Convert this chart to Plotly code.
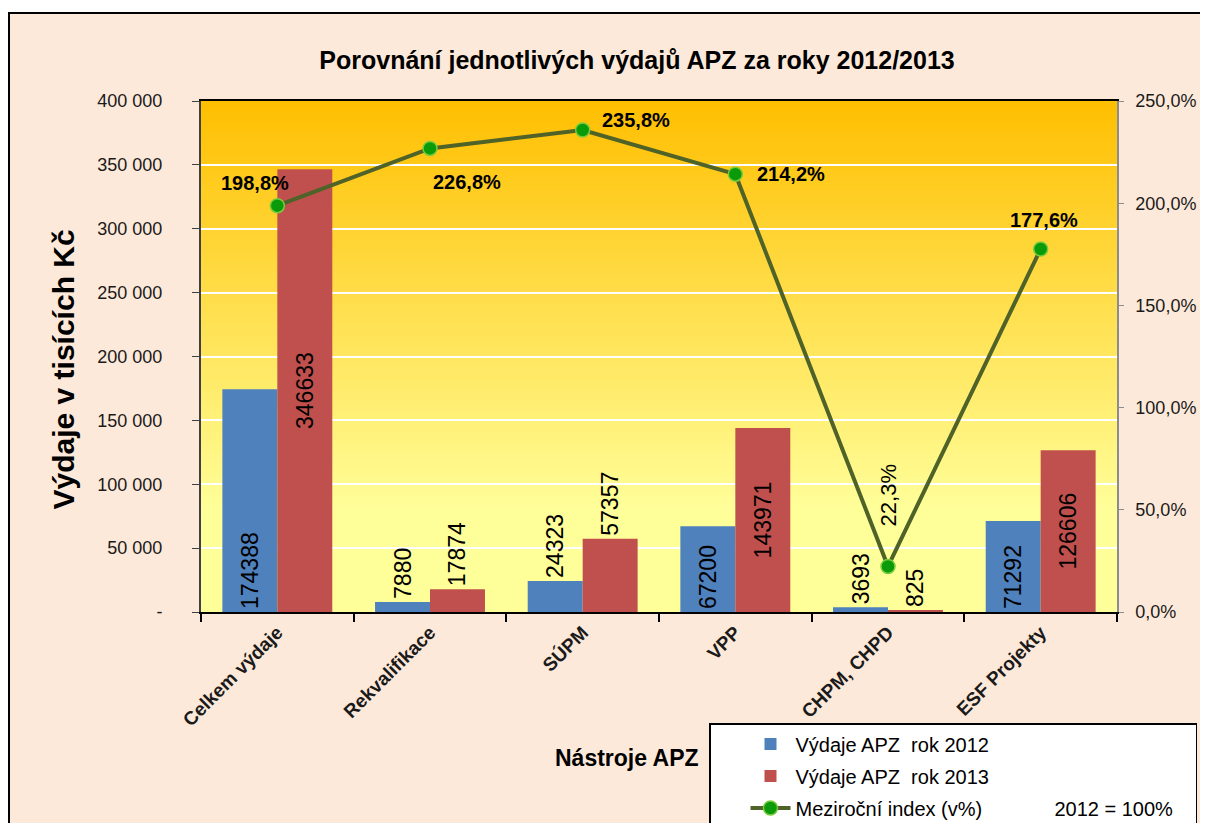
import plotly.graph_objects as go

categories = ["Celkem výdaje", "Rekvalifikace", "SÚPM", "VPP", "CHPM, CHPD", "ESF Projekty"]
spend_2012 = [174388, 7880, 24323, 67200, 3693, 71292]
spend_2013 = [346633, 17874, 57357, 143971, 825, 126606]
index_pct = [198.8, 226.8, 235.8, 214.2, 22.3, 177.6]

y_ticks = [0, 50000, 100000, 150000, 200000, 250000, 300000, 350000, 400000]
y_ticktext = ["-", "50 000", "100 000", "150 000", "200 000", "250 000", "300 000", "350 000", "400 000"]
y2_ticks = [0, 50, 100, 150, 200, 250]
y2_ticktext = ["0,0%", "50,0%", "100,0%", "150,0%", "200,0%", "250,0%"]

# label placement styling (pixel offsets, textposition) — not data
blue_pos = ["inside", "outside", "outside", "inside", "outside", "inside"]
red_pos = ["inside", "outside", "outside", "inside", "outside", "inside"]
pct_offsets = [(-22, 23, 0), (37, -34, 0), (53, 10, 0), (56, 0, 0), (0, 71, -90), (3, 29, 0)]

NB = "\u00a0"
fig = go.Figure()

fig.add_trace(go.Bar(
    x=categories, y=spend_2012, name="Výdaje APZ" + NB * 2 + "rok 2012",
    marker=dict(color="#4F81BD", line=dict(width=0)),
    text=[str(v) for v in spend_2012], textposition=blue_pos, textangle=-90,
    insidetextanchor="start", constraintext="none", cliponaxis=False,
    textfont=dict(size=23, color="black", family="Liberation Sans, Arial"),
    insidetextfont=dict(size=23, color="black"), outsidetextfont=dict(size=23, color="black"),
    legendgroup="a", yaxis="y",
))
fig.add_trace(go.Bar(
    x=categories, y=spend_2013, name="Výdaje APZ" + NB * 2 + "rok 2013",
    marker=dict(color="#C0504D", line=dict(width=0)),
    text=[str(v) for v in spend_2013], textposition=red_pos, textangle=-90,
    insidetextanchor="middle", constraintext="none", cliponaxis=False,
    textfont=dict(size=23, color="black", family="Liberation Sans, Arial"),
    insidetextfont=dict(size=23, color="black"), outsidetextfont=dict(size=23, color="black"),
    legendgroup="b", yaxis="y",
))
fig.add_trace(go.Scatter(
    x=categories, y=index_pct, name="Meziroční index (v%)" + NB * 13 + "2012 = 100%" + NB * 3,
    mode="lines+markers", yaxis="y2",
    line=dict(color="#4F6228", width=4),
    marker=dict(size=14, color="#0A9A0A", line=dict(color="#7ACC3C", width=1.5)),
    legendgroup="c", cliponaxis=False,
))

# Gradient plot background & outer frame
shapes = [dict(type="rect", xref="paper", yref="paper", x0=-0.2096, x1=1.3, y0=-0.6, y1=1.1722,
               fillcolor="#FDE9D9", line=dict(color="black", width=2), layer="below")]
N = 80
c0 = (255, 190, 0)
c1 = (255, 255, 153)
for i in range(N):
    t = (i + 0.5) / N
    tp = min(1.0, t / 0.8)
    col = tuple(round(c0[k] + (c1[k] - c0[k]) * tp) for k in range(3))
    shapes.append(dict(type="rect", xref="paper", yref="paper", x0=0, x1=1,
                       y0=1 - (i + 1) / N, y1=1 - i / N + 0.002,
                       fillcolor="rgb(%d,%d,%d)" % col, line=dict(width=0), layer="below"))

annotations = []
for i, (cat, v) in enumerate(zip(categories, index_pct)):
    dx, dy, ang = pct_offsets[i]
    txt = ("%.1f" % v).replace(".", ",") + "%"
    annotations.append(dict(
        x=cat, y=v, xref="x", yref="y2", text=txt, showarrow=False,
        xshift=dx, yshift=dy, textangle=ang,
        font=dict(size=20 if ang == 0 else 22, color="black",
                  family="Liberation Sans, Arial", weight="bold" if ang == 0 else "normal"),
    ))
annotations.append(dict(x=0.465, y=-0.315, xref="paper", yref="paper", text="<b>Nástroje APZ</b>",
                        showarrow=False, font=dict(size=23, color="black")))
annotations.append(dict(x=-0.1703, y=0.4736, xref="paper", yref="paper", text="<b>Výdaje v tisících Kč</b>",
                        showarrow=False, textangle=-90, font=dict(size=30, color="black")))

fig.update_layout(
    width=1200, height=815,
    margin=dict(l=193, r=91, t=93, b=211, autoexpand=False),
    paper_bgcolor="white", plot_bgcolor="rgba(0,0,0,0)",
    font=dict(family="Liberation Sans, Arial, sans-serif", color="#1a1a1a"),
    title=dict(text="<b>Porovnání jednotlivých výdajů APZ za roky 2012/2013</b>",
               x=629 / 1200, xref="container", xanchor="center",
               y=1 - 52 / 815, yref="container", yanchor="middle",
               font=dict(size=25, color="black")),
    barmode="group", bargap=0.28, bargroupgap=0,
    showlegend=True,
    legend=dict(x=(701 - 193) / 916, y=(604 - 715) / 511, xanchor="left", yanchor="top",
                bgcolor="white", bordercolor="black", borderwidth=1.5,
                font=dict(size=20, color="black"), traceorder="grouped", tracegroupgap=3,
                indentation=35, itemwidth=40),
    xaxis=dict(type="category", showgrid=False, showline=True, linecolor="black", linewidth=2,
               mirror=True, ticks="outside", ticklen=8, tickcolor="black", tickwidth=1.5,
               tickson="boundaries", tickangle=-45,
               tickfont=dict(size=19, color="#1a1a1a", weight="bold")),
    yaxis=dict(range=[0, 400000], tickvals=y_ticks, ticktext=y_ticktext,
               showgrid=True, gridcolor="white", gridwidth=2, zeroline=False,
               showline=True, linecolor="#404040", linewidth=2,
               ticks="outside", ticklen=7, tickcolor="#404040", ticklabelstandoff=26,
               tickfont=dict(size=18, color="#1a1a1a")),
    yaxis2=dict(range=[0, 250], overlaying="y", side="right", tickvals=y2_ticks, ticktext=y2_ticktext,
                showgrid=False, zeroline=False, showline=True, linecolor="#8c8c8c", linewidth=1.5,
                ticks="outside", ticklen=5, tickcolor="#8c8c8c", ticklabelstandoff=8,
                tickfont=dict(size=18, color="#1a1a1a")),
    shapes=shapes,
    annotations=annotations,
)

fig.write_html("out.html")
